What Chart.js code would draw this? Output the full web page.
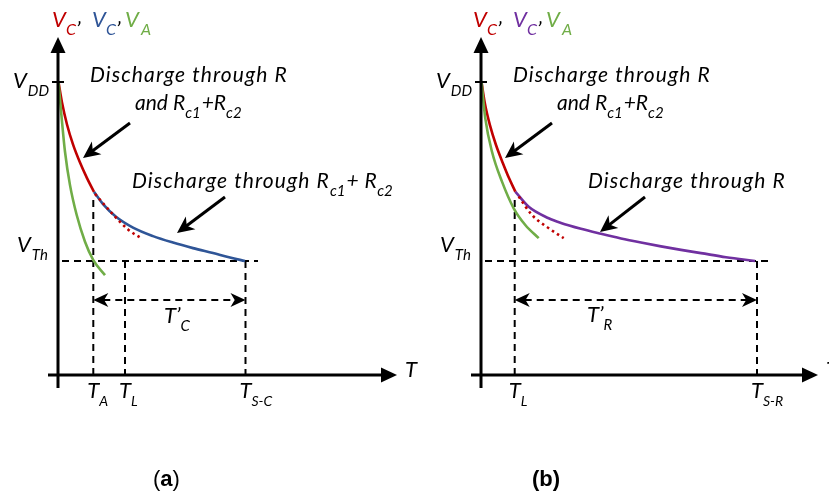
<!DOCTYPE html>
<html><head><meta charset="utf-8">
<script src="https://cdn.jsdelivr.net/npm/chart.js@4/dist/chart.umd.min.js"></script>
<style>
html,body{margin:0;padding:0;background:#fff;width:829px;height:495px;overflow:hidden}
canvas{position:absolute;top:0}
#ca{left:0}
#cb{left:420px}
</style></head><body>
<canvas id="ca" width="420" height="495"></canvas>
<canvas id="cb" width="409" height="495"></canvas>
<script>
// ---------- data (time in arbitrary units, voltage normalised to V_DD = 1) ----------
const VDD = 1.0;
const VTH = 0.389;
const ARROW_Y = 0.256;          // level of the T' double arrow

// panel (a)
const aGreenT = [0.05, 0.37, 0.70, 1.20, 1.87, 2.70, 3.53, 4.70];
const aGreenV = [1.00, 0.876, 0.762, 0.648, 0.546, 0.455, 0.392, 0.341];
const aRedT   = [0.05, 0.40, 0.90, 1.50, 2.20, 2.90, 3.60];
const aRedV   = [1.00, 0.930, 0.855, 0.787, 0.725, 0.672, 0.625];
const aDotT   = [3.70, 5.50, 7.00, 8.40];
const aDotV   = [0.618, 0.548, 0.497, 0.465];
const aBlueT  = [3.60, 4.50, 5.80, 7.50, 9.50, 11.5, 13.5, 15.5, 17.2, 18.7];
const aBlueV  = [0.625, 0.583, 0.540, 0.503, 0.474, 0.452, 0.433, 0.416, 0.401, 0.389];
const aTA = 3.53, aTL = 6.70, aTSC = 18.75, aKneeV = 0.597;
const aVthLine = [0.4, 20.0];

// panel (b)
const bGreenT  = [0.05, 0.43, 1.10, 2.10, 3.27, 4.43, 5.77];
const bGreenV  = [1.00, 0.876, 0.762, 0.660, 0.569, 0.512, 0.467];
const bRedT    = [0.05, 0.40, 0.90, 1.50, 2.20, 2.80, 3.43];
const bRedV    = [1.00, 0.925, 0.852, 0.785, 0.722, 0.672, 0.626];
const bDotT    = [3.77, 5.10, 6.77, 8.27];
const bDotV    = [0.609, 0.546, 0.501, 0.467];
const bPurpleT = [3.43, 4.77, 6.77, 8.0, 10.0, 12.0, 14.0, 16.0, 18.0, 20.0, 22.0, 24.5, 27.4];
const bPurpleV = [0.626, 0.574, 0.535, 0.519, 0.499, 0.482, 0.466, 0.452, 0.439, 0.427, 0.416, 0.402, 0.389];
const bTL = 3.37, bTSR = 27.6, bKneeV = 0.597;
const bVthLine = [0.4, 29.2];

// ---------- styling ----------
const RED = '#C00000', BLUE = '#2F5597', GREEN = '#70AD47', PURPLE = '#7030A0';
const FAM = 'Lato, "Open Sans", sans-serif';
const ARIAL = 'Arial, "Liberation Sans", sans-serif';
const Y_TOP = 1.154;            // tip of the vertical axis arrow

const pts = (T, V) => T.map((t, i) => ({x: t, y: V[i]}));
const curve = (T, V, c, dash) => ({data: pts(T, V), borderColor: c, borderWidth: 2.6,
  borderDash: dash || [], showLine: true, pointRadius: 0, tension: 0.4, fill: false, cubicInterpolationMode: 'monotone'});
const dashed = (p) => ({data: p, borderColor: '#000', borderWidth: 2, borderDash: [7, 5], showLine: true,
  pointRadius: 0, tension: 0, fill: false});

const N = (t, c, extra) => Object.assign({t, s: 22, c: c || '#000'}, extra || {});
const S = (t, c, extra) => Object.assign({t, s: 15, dy: 8, c: c || '#000'}, extra || {});

function drawParts(ctx, x, y, parts) {
  let cx = x;
  for (const p of parts) {
    ctx.font = `${p.it === false ? 'normal' : 'italic'} ${p.b ? 'bold' : 'normal'} ${p.s}px ${p.f || FAM}`;
    ctx.letterSpacing = (p.ls || 0) + 'px';
    ctx.fillStyle = p.c;
    if (typeof p.at === 'number') cx = x + p.at;
    ctx.fillText(p.t, cx + (p.dx || 0), y + (p.dy || 0));
    cx += ctx.measureText(p.t).width + (p.dx || 0) + (p.gap || 0);
  }
  ctx.letterSpacing = '0px';
}

function arrowHead(ctx, x, y, ang, len, half) {
  const ca = Math.cos(ang), sa = Math.sin(ang);
  const bx = x - ca * len, by = y - sa * len;
  const nx = x - ca * len * 0.72, ny = y - sa * len * 0.72;
  ctx.beginPath();
  ctx.moveTo(x, y);
  ctx.lineTo(bx - sa * half, by + ca * half);
  ctx.lineTo(nx, ny);
  ctx.lineTo(bx + sa * half, by - ca * half);
  ctx.closePath();
  ctx.fill();
}

function pointer(ctx, x1, y1, x2, y2) {
  const ang = Math.atan2(y2 - y1, x2 - x1);
  ctx.beginPath();
  ctx.moveTo(x1, y1);
  ctx.lineTo(x2 - Math.cos(ang) * 10, y2 - Math.sin(ang) * 10);
  ctx.stroke();
  arrowHead(ctx, x2, y2, ang, 17, 8);
}

function drawOverlay(chart, o) {
  const {ctx} = chart, xs = chart.scales.x, ys = chart.scales.y;
  const ox = xs.getPixelForValue(0), oy = ys.getPixelForValue(0);
  const px = v => xs.getPixelForValue(v), py = v => ys.getPixelForValue(v);
  ctx.save();
  ctx.setLineDash([]);
  ctx.strokeStyle = '#000'; ctx.fillStyle = '#000';
  // axes
  ctx.lineWidth = 3;
  const yTip = py(Y_TOP), xTip = px(o.xEnd);
  ctx.beginPath(); ctx.moveTo(ox, oy + 13); ctx.lineTo(ox, yTip + 12); ctx.stroke();
  ctx.beginPath(); ctx.moveTo(ox - 10, oy); ctx.lineTo(xTip - 12, oy); ctx.stroke();
  ctx.beginPath(); ctx.moveTo(ox, yTip); ctx.lineTo(ox - 7.5, yTip + 16); ctx.lineTo(ox + 7.5, yTip + 16); ctx.closePath(); ctx.fill();
  ctx.beginPath(); ctx.moveTo(xTip, oy); ctx.lineTo(xTip - 16, oy - 7.5); ctx.lineTo(xTip - 16, oy + 7.5); ctx.closePath(); ctx.fill();
  // V_DD tick
  ctx.lineWidth = 2;
  ctx.beginPath(); ctx.moveTo(ox - 6, py(VDD)); ctx.lineTo(ox + 6, py(VDD)); ctx.stroke();
  // double-arrow heads
  arrowHead(ctx, px(o.dbl[0]), py(ARROW_Y), Math.PI, 15, 7);
  arrowHead(ctx, px(o.dbl[1]), py(ARROW_Y), 0, 15, 7);
  // pointer arrows
  ctx.lineWidth = 3;
  for (const a of o.pointers) pointer(ctx, ox + a[0], a[1], ox + a[2], a[3]);
  // texts
  ctx.textBaseline = 'alphabetic';
  for (const t of o.texts) drawParts(ctx, typeof t.x === 'number' ? t.x : ox + t.rx, t.y, t.parts);
  // tick labels on the time axis
  for (const t of o.ticks) drawParts(ctx, px(t.v) - 6, oy + 23, [N('T'), S(t.sub, '#000', {s: 14})]);
  ctx.restore();
}

function makeChart(id, width, ox, xEnd, datasets, opt) {
  const pxPerUnit = 10, XMIN = -1.5, YMIN = -0.06, YMAX = 1.16, pxPerV = 293, oyPix = 375;
  const left = ox + XMIN * pxPerUnit, right = 6;
  const XMAX = (width - right - ox) / pxPerUnit;
  const top = oyPix - YMAX * pxPerV, bottom = 495 - (oyPix - YMIN * pxPerV);
  opt.xEnd = xEnd;
  return new Chart(document.getElementById(id), {
    type: 'scatter',
    data: {datasets},
    options: {
      responsive: false, animation: false, events: [],
      layout: {padding: {left, right, top, bottom}},
      plugins: {legend: {display: false}, tooltip: {enabled: false}},
      scales: {x: {type: 'linear', display: false, min: XMIN, max: XMAX},
               y: {type: 'linear', display: false, min: YMIN, max: YMAX}}
    },
    plugins: [{id: 'overlay_' + id, afterDatasetsDraw(chart) { drawOverlay(chart, opt); }}]
  });
}

const titleParts = (c2) => [
  N('V', RED, {at: 0}), S('C', RED, {at: 14, s: 16}), N('’', '#000', {at: 24, dy: 10}),
  N('V', c2, {at: 40}), S('C', c2, {at: 54, s: 16}), N('’', '#000', {at: 64, dy: 10}),
  N('V', GREEN, {at: 73}), S('A', GREEN, {at: 89, s: 16})];
const vdd = () => ({rx: -45, y: 88, parts: [N('V'), S('DD', '#000', {dx: 1})]});
const vth = () => ({rx: -41, y: 252, parts: [N('V'), S('Th', '#000', {dx: 1})]});
const DIS = (t) => N(t, '#000', {s: 21, ls: 1.1});

// ---------- panel (a) ----------
makeChart('ca', 420, 58, 33.9, [
  curve(aGreenT, aGreenV, GREEN),
  curve(aRedT, aRedV, RED),
  curve(aDotT, aDotV, RED, [2.5, 3.5]),
  curve(aBlueT, aBlueV, BLUE),
  dashed([{x: aVthLine[0], y: VTH}, {x: aVthLine[1], y: VTH}]),
  dashed([{x: aTA, y: aKneeV}, {x: aTA, y: 0}]),
  dashed([{x: aTL, y: VTH}, {x: aTL, y: 0}]),
  dashed([{x: aTSC, y: VTH}, {x: aTSC, y: 0}]),
  dashed([{x: aTA + 1.0, y: ARROW_Y}, {x: aTSC - 1.0, y: ARROW_Y}])
], {
  dbl: [aTA, aTSC],
  pointers: [[72, 123, 25, 158], [167, 197, 119, 233]],
  ticks: [{v: aTA, sub: 'A'}, {v: aTL, sub: 'L'}, {v: aTSC, sub: 'S-C'}],
  texts: [
    {rx: -6, y: 27, parts: titleParts(BLUE)},
    vdd(), vth(),
    {rx: 32, y: 82, parts: [DIS('Discharge through R')]},
    {rx: 77, y: 110, parts: [N('and R', '#000', {s: 21}), S('c1', '#000', {gap: 1}), N('+R', '#000', {s: 21}), S('c2')]},
    {rx: 74, y: 188, parts: [DIS('Discharge through R'), S('c1', '#000', {gap: 1}), N('+ R', '#000', {s: 21, ls: 0.5}), S('c2')]},
    {rx: 106, y: 323, parts: [N('T’'), S('C')]},
    {rx: 347, y: 377, parts: [N('T')]},
    {x: 153, y: 486, parts: [{t: '(', s: 22, c: '#000', it: false, f: ARIAL},
                              {t: 'a', s: 22, c: '#000', it: false, b: true, f: ARIAL},
                              {t: ')', s: 22, c: '#000', it: false, f: ARIAL}]}
  ]
});

// ---------- panel (b) ----------
makeChart('cb', 409, 61, 33.7, [
  curve(bGreenT, bGreenV, GREEN),
  curve(bRedT, bRedV, RED),
  curve(bDotT, bDotV, RED, [2.5, 3.5]),
  curve(bPurpleT, bPurpleV, PURPLE),
  dashed([{x: bVthLine[0], y: VTH}, {x: bVthLine[1], y: VTH}]),
  dashed([{x: bTL, y: bKneeV}, {x: bTL, y: 0}]),
  dashed([{x: bTSR, y: VTH}, {x: bTSR, y: 0}]),
  dashed([{x: bTL + 1.0, y: ARROW_Y}, {x: bTSR - 1.0, y: ARROW_Y}])
], {
  dbl: [bTL, bTSR],
  pointers: [[71, 123, 24, 158], [164, 197, 119, 232]],
  ticks: [{v: bTL, sub: 'L'}, {v: bTSR, sub: 'S-R'}],
  texts: [
    {rx: -8, y: 27, parts: titleParts(PURPLE)},
    vdd(), vth(),
    {rx: 32, y: 82, parts: [DIS('Discharge through R')]},
    {rx: 76, y: 110, parts: [N('and R', '#000', {s: 21}), S('c1', '#000', {gap: 1}), N('+R', '#000', {s: 21}), S('c2')]},
    {rx: 107, y: 188, parts: [DIS('Discharge through R')]},
    {rx: 106, y: 322, parts: [N('T’'), S('R')]},
    {rx: 345, y: 377, parts: [N('T')]},
    {x: 112, y: 486, parts: [{t: '(b)', s: 22, c: '#000', it: false, b: true, f: ARIAL}]}
  ]
});
</script>
</body></html>
